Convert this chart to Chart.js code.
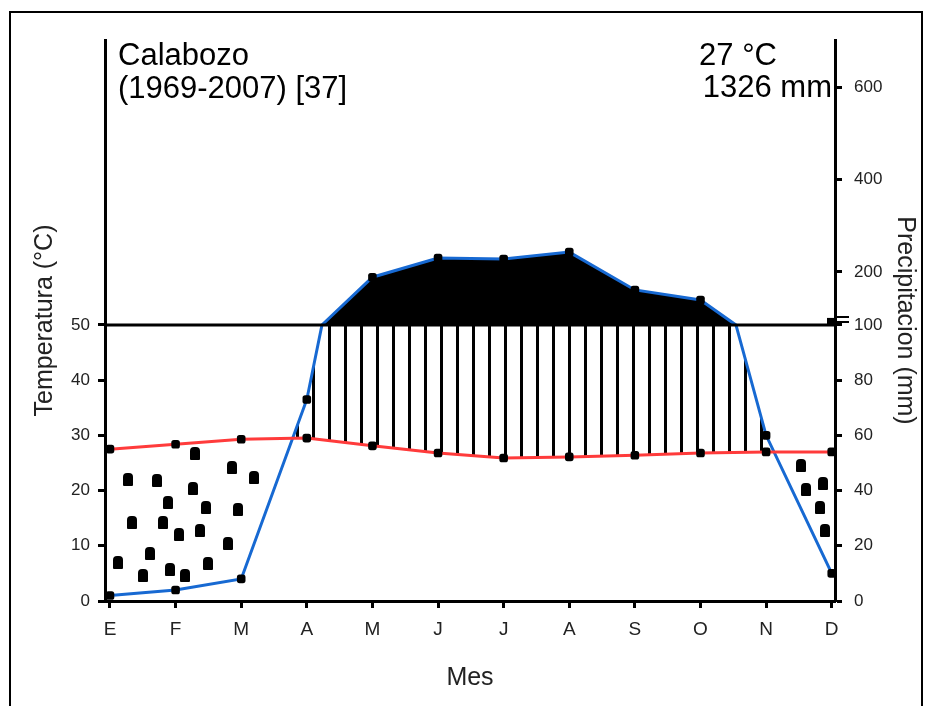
<!DOCTYPE html>
<html>
<head>
<meta charset="utf-8">
<script src="https://cdn.jsdelivr.net/npm/chart.js@4/dist/chart.umd.min.js"></script>
<style>
body { margin: 0; background: #fff; }
#wrap { position: relative; width: 935px; height: 706px; }
#frame { position: absolute; left: 9px; top: 11px; width: 910px; height: 700px; border: 2px solid #000; border-bottom: none; }
canvas { position: absolute; left: 0; top: 0; }
</style>
</head>
<body>
<div id="wrap"><div id="frame"></div><canvas id="myChart" width="935" height="706"></canvas></div>
<script>
// datos del climadiagrama
const months = ['E', 'F', 'M', 'A', 'M', 'J', 'J', 'A', 'S', 'O', 'N', 'D']
const temps = [27.5, 28.4, 29.3, 29.5, 28.1, 26.8, 25.9, 26.1, 26.4, 26.8, 27.0, 27.0]
const rain = [2, 4, 8, 73, 190, 230, 228, 243, 166, 147, 60, 10]
const tempTicks = [0, 10, 20, 30, 40, 50]
const rainTicks = [0, 20, 40, 60, 80, 100, 200, 400, 600]
const station = 'Calabozo'
const period = '(1969-2007) [37]'
const meanTemp = '27 °C'
const totalRain = '1326 mm'

// puntos de la textura de zonas secas (coordenadas dentro del mosaico)
const dotTile = [[90,13],[23,39],[52,40],[127,27],[149,37],[88,48],[63,62],[101,67],[133,69],[27,82],
  [58,82],[74,94],[95,90],[123,103],[45,113],[13,122],[65,129],[38,135],[80,135],[103,123],
  [696,25],[718,43],[701,49],[715,67],[720,90]]

const FONT = "'Liberation Sans', Arial, sans-serif"
Chart.defaults.font.family = FONT

// escala Walter-Lieth: 20 mm = 10 °C hasta 100 mm, comprimida por encima
function rainToScale(mm) {
  if (mm <= 100) return mm / 2
  if (mm <= 200) return 50 + (mm - 100) * 0.096
  return 59.6 + (mm - 200) * 0.0835
}

// curva de lluvia, con el corte en 100 mm donde cambia la escala
let rainPts = []
let isMonth = []
for (let i = 0; i < rain.length; i++) {
  rainPts.push({x: i, y: rainToScale(rain[i])})
  isMonth.push(true)
  if (i < rain.length - 1) {
    let a = rain[i], b = rain[i + 1]
    if ((a - 100) * (b - 100) < 0) {
      rainPts.push({x: i + (100 - a) / (b - a), y: 50})
      isMonth.push(false)
    }
  }
}
let rainCapped = rainPts.map(p => ({x: p.x, y: Math.min(p.y, 50)}))

var ctx = document.getElementById('myChart').getContext('2d')

function makeHatch() {
  let c = document.createElement('canvas')
  c.width = 16; c.height = 16
  let g = c.getContext('2d')
  g.fillStyle = '#000'
  g.fillRect(8, 0, 3, 16)
  return ctx.createPattern(c, 'repeat')
}

function makeDots() {
  let c = document.createElement('canvas')
  c.width = 730; c.height = 170
  let g = c.getContext('2d')
  g.fillStyle = '#000'
  dotTile.forEach(d => {
    g.beginPath()
    g.roundRect(d[0] - 5, d[1] - 6, 10, 13, [4, 4, 1, 1])
    g.fill()
  })
  let p = ctx.createPattern(c, 'repeat')
  p.setTransform(new DOMMatrix([1, 0, 0, 1, 105, 440]))
  return p
}

const textos = {
  id: 'textos',
  afterDatasetsDraw(chart) {
    const c = chart.ctx
    const y50 = chart.scales.y.getPixelForValue(50)
    const area = chart.chartArea
    c.save()
    c.strokeStyle = '#000'
    c.lineWidth = 3
    c.beginPath()
    c.moveTo(area.left, y50)
    c.lineTo(area.right, y50)
    c.stroke()
    c.fillStyle = '#000'
    c.fillRect(area.right - 8, y50 - 7, 10, 7)
    c.lineWidth = 2
    c.beginPath()
    c.moveTo(area.right, y50 - 8); c.lineTo(area.right + 14, y50 - 8)
    c.moveTo(area.right, y50 - 3); c.lineTo(area.right + 14, y50 - 3)
    c.stroke()
    c.restore()
  },
  afterDraw(chart) {
    const c = chart.ctx
    c.save()
    c.font = '31px ' + FONT
    c.fillStyle = '#000'
    c.textAlign = 'left'
    c.fillText(station, 118, 65)
    c.fillText(period, 118, 98)
    c.textAlign = 'right'
    c.fillText(meanTemp, 777, 65)
    c.fillText(totalRain, 832, 97)
    c.restore()
  }
}

var chart = new Chart(ctx, {
  type: 'line',
  data: {
    datasets: [{
      label: 'Temperatura',
      data: temps.map((t, i) => ({x: i, y: t})),
      borderColor: '#ff3b3b',
      borderWidth: 3,
      pointStyle: 'rectRounded',
      pointRadius: 5,
      pointBackgroundColor: '#000',
      pointBorderColor: '#000',
      pointBorderWidth: 0,
      fill: false,
      yAxisID: 'y'
    }, {
      label: 'Precipitacion',
      data: rainPts,
      borderColor: '#1769d2',
      borderWidth: 3,
      pointStyle: 'rectRounded',
      pointRadius: c => isMonth[c.dataIndex] ? 5 : 0,
      pointBackgroundColor: '#000',
      pointBorderColor: '#000',
      pointBorderWidth: 0,
      fill: {target: {value: 50}, above: '#000', below: 'rgba(0,0,0,0)'},
      yAxisID: 'y'
    }, {
      label: 'relleno',
      data: rainCapped,
      borderColor: 'rgba(0,0,0,0)',
      borderWidth: 0,
      pointRadius: 0,
      fill: {target: 0, above: makeHatch(), below: makeDots()},
      yAxisID: 'y'
    }]
  },
  options: {
    responsive: false,
    animation: false,
    layout: {padding: {top: 40}},
    plugins: {
      legend: {display: false},
      tooltip: {enabled: false},
      filler: {drawTime: 'beforeDatasetsDraw'}
    },
    scales: {
      x: {
        type: 'linear',
        min: -0.076,
        max: 11.05,
        afterBuildTicks: s => { s.ticks = months.map((m, i) => ({value: i})) },
        afterFit: s => { s.height = 105 },
        ticks: {callback: v => months[v], color: '#222', font: {size: 19}, padding: 10, autoSkip: false, maxRotation: 0},
        grid: {drawOnChartArea: false, tickLength: 7, tickWidth: 3, tickColor: '#000'},
        border: {color: '#000', width: 3},
        title: {display: true, text: 'Mes', color: '#222', font: {size: 25}, padding: {top: 0, bottom: 13}}
      },
      y: {
        position: 'left',
        min: 0,
        max: 101.6,
        afterBuildTicks: s => { s.ticks = tempTicks.map(v => ({value: v})) },
        afterFit: s => { s.width = 105 },
        ticks: {color: '#222', font: {size: 17}, padding: 8},
        grid: {drawOnChartArea: false, tickLength: 7, tickWidth: 3, tickColor: '#000'},
        border: {color: '#000', width: 3},
        title: {display: true, text: 'Temperatura (°C)', color: '#222', font: {size: 25}, padding: {top: 30, bottom: 0}}
      },
      y2: {
        position: 'right',
        min: 0,
        max: 101.6,
        afterBuildTicks: s => { s.ticks = rainTicks.map(v => ({value: rainToScale(v)})) },
        afterFit: s => { s.width = 100 },
        ticks: {color: '#222', font: {size: 17}, padding: 12, callback: (v, i) => rainTicks[i]},
        grid: {drawOnChartArea: false, tickLength: 7, tickWidth: 3, tickColor: '#000'},
        border: {color: '#000', width: 3},
        title: {display: true, text: 'Precipitacion (mm)', color: '#222', font: {size: 25}, padding: {top: 15, bottom: 0}}
      }
    }
  },
  plugins: [textos]
})
</script>
</body>
</html>
